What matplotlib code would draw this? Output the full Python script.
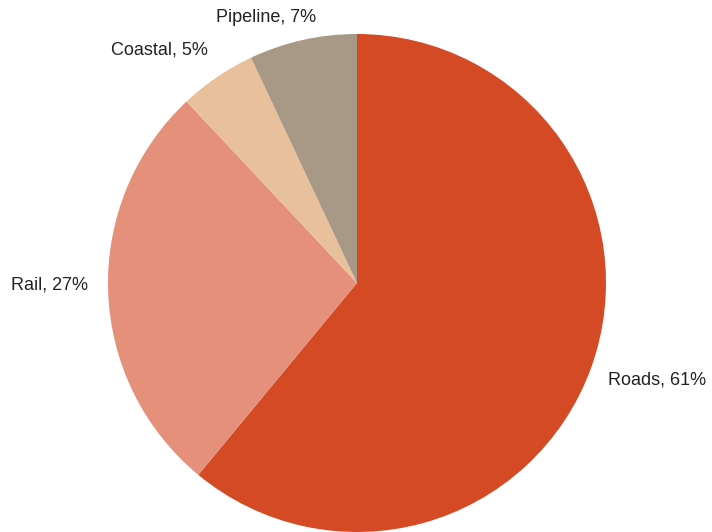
import matplotlib.pyplot as plt

# transport share data
modes = ['Roads', 'Rail', 'Coastal', 'Pipeline']
shares = [61, 27, 5, 7]
colors = ['#D44A24', '#E5907A', '#E8C19C', '#A89886']

# label positions (pixels, from top-left) and alignment
label_pos = [(608, 380, 'left'), (88, 285, 'right'), (208, 50, 'right'), (216, 18, 'left')]

W, H = 712, 532
fig = plt.figure(figsize=(W / 100, H / 100), dpi=100)
ax = fig.add_axes([0, 0, 1, 1])
ax.set_xlim(0, W)
ax.set_ylim(0, H)
ax.set_aspect('equal')
ax.axis('off')

cx, cy, r = 357, H - 283, 249
ax.pie(shares, colors=colors, startangle=90, counterclock=False,
       center=(cx, cy), radius=r, frame=True,
       wedgeprops={'linewidth': 0})
ax.set_xlim(0, W)
ax.set_ylim(0, H)
ax.axis('off')

for m, s, (x, y, ha) in zip(modes, shares, label_pos):
    ax.text(x, H - y, f'{m}, {s}%', ha=ha, va='center',
            fontsize=13, family='Liberation Sans', color='#222222')

fig.savefig('out.png', dpi=100)
